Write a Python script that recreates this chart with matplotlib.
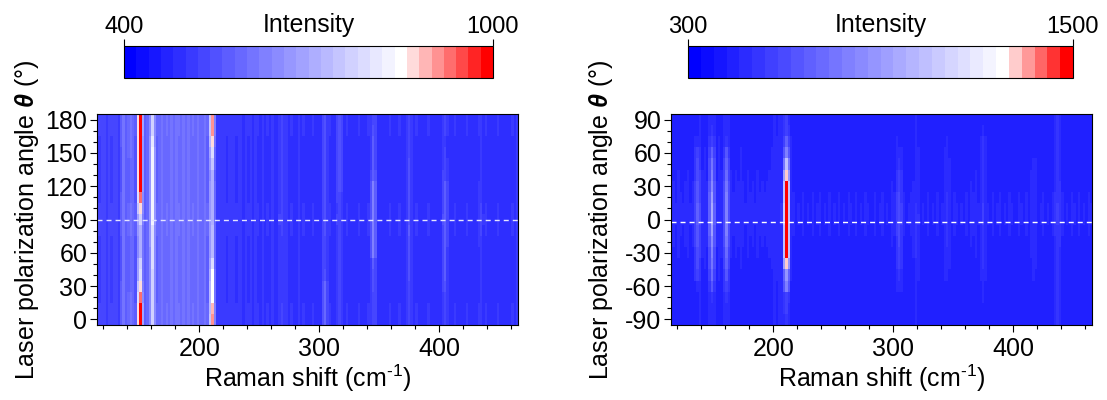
import numpy as np
import matplotlib
matplotlib.use('Agg')
import matplotlib.pyplot as plt
from matplotlib.colors import LinearSegmentedColormap
from matplotlib.ticker import MultipleLocator, NullLocator

plt.rcParams['font.family'] = ['Liberation Sans', 'DejaVu Sans']
plt.rcParams['mathtext.fontset'] = 'custom'
plt.rcParams['mathtext.rm'] = 'Liberation Sans'
plt.rcParams['mathtext.it'] = 'Liberation Sans:italic:bold'
plt.rcParams['axes.unicode_minus'] = False

# first column 115 cm-1, one column every 2 cm-1
base_left = [525,515,530,520,510,525,515,530,520,510,
             525,540,535,550,545,560,555,565,560,575,
             570,585,590,600,585,575,590,600,580,595,
             585,600,590,610,595,580,600,590,605,585,
             595,580,600,590,585,600,575,590,560,540,
             510,505,500,510,495,505,500,510,495,505,
             500,490,505,495,500,490,505,495,485,500,
             490,495,485,500,490,480,495,485,490,500,
             485,495,480,490,500,485,495,480,490,485,
             495,480,490,485,500,490,480,495,485,490,
             495,485,490,480,495,490,480,490,485,495,
             480,490,485,495,480,490,500,485,480,490,
             485,480,495,485,490,480,495,485,490,480,
             490,480,485,495,480,490,485,480,495,485,
             480,490,485,480,495,485,480,490,485,495,
             480,485,490,480,495,485,480,490,480,485,
             490,480,495,485,480,490,485,495,480,490,
             480,490,485,495,485,500]
base_right = [445,450,440,455,445,440,450,455,440,450,
              455,450,465,455,460,450,465,455,460,450,
              465,455,460,450,465,455,445,455,450,460,
              450,440,455,445,450,440,455,445,450,445,
              450,455,460,470,465,475,480,490,510,480,
              465,445,435,440,430,445,435,440,430,445,
              435,440,445,430,440,435,445,430,440,435,
              445,435,440,430,445,440,430,445,435,440,
              430,445,440,435,430,445,435,440,445,430,
              440,435,450,445,455,440,450,445,435,440,
              445,430,440,445,435,440,430,445,435,440,
              435,445,430,440,445,435,440,430,445,440,
              435,440,430,445,435,450,445,455,440,435,
              445,435,440,430,445,435,440,445,430,440,
              435,445,440,430,435,445,440,430,445,435,
              440,435,445,430,440,445,435,440,430,445,
              445,440,450,445,435,440,430,445,440,435,
              445,430,440,435,445,440]

angle_left = list(range(0, 190, 10))
angle_right = list(range(-90, 100, 10))
row_offset_left = [6,5,4,2,0,1,2,4,6,8,6,4,3,2,0,1,3,5,6]
row_offset_right = [-8,-8,-8,-6,-2,2,6,10,15,20,20,15,10,6,2,0,-4,-8,-8]

# peak position, then added intensity for each angle, lowest row first
peaks_left = {
    151: [500,500,370,300,220,200,150,150,150,200,300,370,500,500,500,500,500,500,500],
    161: [160,160,160,170,170,190,190,190,190,225,225,225,225,225,225,225,200,170,170],
    211: [340,320,290,290,280,220,160,160,160,150,150,150,150,150,180,230,300,340,350],
    138: [70,70,70,70,60,60,60,60,60,70,70,70,60,60,60,60,70,70,70],
    143: [60,60,60,50,50,50,50,50,50,50,50,50,50,50,50,60,60,60,60],
    269: [30,30,30,30,30,30,30,30,30,35,35,35,35,35,35,35,35,35,35],
    306: [90,90,90,90,55,45,45,45,45,45,50,50,50,50,50,50,50,50,50],
    317: [35,35,35,35,35,35,35,35,35,35,35,45,60,60,60,60,60,60,60],
    345: [35,35,45,55,55,70,130,130,130,130,130,130,130,80,70,70,70,60,35],
    375: [40,40,40,40,50,65,65,65,65,55,55,55,55,55,55,40,40,40,40],
    405: [35,35,40,55,75,75,75,75,75,75,75,75,75,50,45,35,30,30,30],
    436: [20,20,20,20,25,25,25,25,25,25,25,25,25,20,20,20,20,20,20],
}
peaks_right = {
    211: [30,40,70,300,380,820,1100,1100,1100,1100,1100,1100,1100,820,520,300,170,70,40],
    150: [40,50,80,180,250,300,350,380,450,490,490,450,380,350,320,220,120,60,40],
    161: [30,40,70,120,180,220,260,290,320,330,330,320,290,260,220,170,90,50,30],
    138: [10,10,15,20,100,130,150,170,190,200,200,190,170,150,130,100,20,15,10],
    306: [20,20,20,40,80,100,120,130,140,150,150,140,120,100,80,50,20,20,20],
    320: [30,30,30,35,40,55,55,70,70,70,55,40,40,30,30,30,30,30,30],
    346: [15,15,30,30,40,40,50,55,55,55,55,50,40,40,40,30,30,15,15],
    375: [20,20,35,35,55,55,55,55,70,80,80,70,70,70,70,70,70,40,20],
    417: [15,15,20,20,30,30,30,30,35,35,35,30,30,30,30,20,20,15,15],
    437: [80,80,80,80,80,80,80,80,80,80,80,80,80,80,80,80,80,80,80],
}
side_left = {151: (0.6, 0.2), 161: (0.35, 0.35), 211: (0.45, 0.25)}
side_right = {211: (0.5, 0.5), 150: (0.4, 0.4), 161: (0.4, 0.4)}


def build(base, rows, peaks, sides):
    z = np.array(base, dtype=float)[None, :] + np.array(rows, dtype=float)[:, None]
    for pos, amps in peaks.items():
        i = (pos - 115) // 2
        amps = np.array(amps, dtype=float)
        lo, hi = sides.get(pos, (0.5, 0.5))
        z[:, i] += amps
        z[:, i - 1] += amps * lo
        z[:, i + 1] += amps * hi
    return z


def px_axes(x0, x1, y0, y1):
    return fig.add_axes([x0 / W, 1 - y1 / H, (x1 - x0) / W, (y1 - y0) / H])


W, H = 1107, 400
fig = plt.figure(figsize=(W / 100, H / 100), dpi=100)
shift = 115 + 2 * np.arange(len(base_left))

panels = [
    (97, 518, 124, 493, angle_left, build(base_left, row_offset_left, peaks_left, side_left),
     400, 1000, 22 / 29, (-5, 185), 90, '#e4e4ff'),
    (671, 1092, 688, 1073, angle_right, build(base_right, row_offset_right, peaks_right, side_right),
     300, 1500, 24 / 29, (-95, 95), -2, 'white'),
]

for x0, x1, c0, c1, angle, z, vmin, vmax, mid, ylim, yline, linecolor in panels:
    cmap = LinearSegmentedColormap.from_list('bwr30', [(0, '#0000ff'), (mid, '#ffffff'), (1, '#ff0000')], N=30)
    ax = px_axes(x0, x1, 114, 325)
    mesh = ax.pcolormesh(shift, angle, z, cmap=cmap, vmin=vmin, vmax=vmax, shading='nearest', rasterized=True)
    ax.axhline(yline, color=linecolor, lw=1, ls=(0, (3.6, 2.9)))
    ax.set_xlim(114.8, 465.6)
    ax.set_ylim(*ylim)
    ax.xaxis.set_major_locator(MultipleLocator(100))
    ax.xaxis.set_minor_locator(MultipleLocator(20))
    ax.yaxis.set_major_locator(MultipleLocator(30))
    ax.yaxis.set_minor_locator(MultipleLocator(10))
    ax.tick_params(which='major', length=5, width=0.8, labelsize=18, pad=2)
    ax.tick_params(axis='x', which='major', pad=4)
    ax.tick_params(which='minor', length=2.7, width=0.8)
    ax.set_xlabel(r'Raman shift (cm$^{\text{-1}}$)', fontsize=18, labelpad=1)
    ax.set_ylabel(r'Laser polarization angle $\mathit{\theta}$ (°)', fontsize=18)
    ax.yaxis.set_label_coords(-56 / 421, 0.5)

    cax = px_axes(c0, c1, 46, 78)
    cb = fig.colorbar(mesh, cax=cax, orientation='horizontal', ticks=[vmin, vmax])
    cb.ax.xaxis.set_ticks_position('top')
    cb.ax.xaxis.set_minor_locator(NullLocator())
    cb.ax.tick_params(length=5, width=0.8, labelsize=17, pad=1)
    cb.outline.set_linewidth(0.8)
    cax.text(0.5, 1.44, 'Intensity', transform=cax.transAxes, ha='center', va='baseline', fontsize=17.8)

fig.savefig('out.png', dpi=100)
